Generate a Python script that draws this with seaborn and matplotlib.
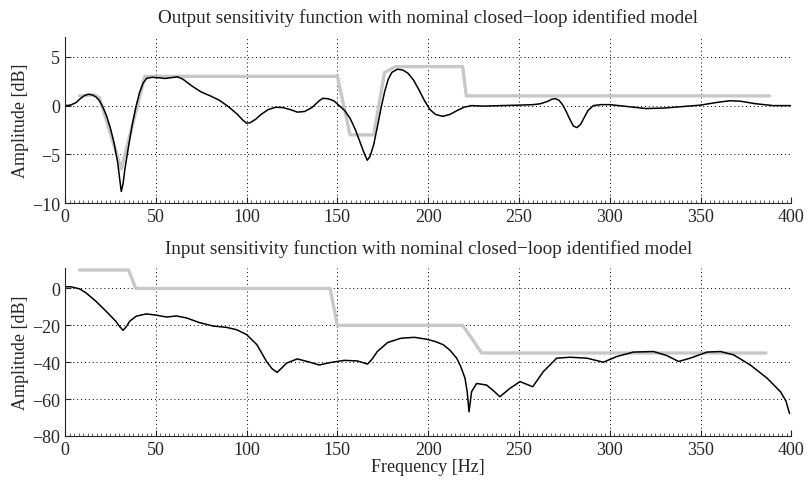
import numpy as np
import pandas as pd
import matplotlib
matplotlib.use("Agg")
import matplotlib.pyplot as plt
from matplotlib.ticker import MultipleLocator
import seaborn as sns

out_freq = [0, 3, 6, 9, 11, 13, 15, 17, 19, 21, 23, 25, 27, 29, 30, 31, 32, 33, 35, 37, 39, 41,
            43, 45, 48, 52, 55, 58, 62, 65, 70, 75, 80, 85, 90, 95, 98, 100, 102, 105, 108,
            112, 116, 120, 124, 128, 132, 136, 140, 142, 145, 148, 151, 154, 157, 160, 163,
            165, 166.5, 168, 170, 172, 174, 176, 178, 180, 183, 186, 189, 192, 195, 198, 201,
            204, 208, 212, 216, 220, 224, 230, 240, 250, 258, 262, 266, 268, 270, 272, 274,
            276, 278, 280, 282, 284, 286, 288, 291, 295, 300, 310, 320, 330, 340, 350, 358,
            366, 372, 380, 390, 400]
out_db = [0, 0.05, 0.3, 0.8, 1.05, 1.17, 1.1, 0.9, 0.5, -0.2, -1.1, -2.3, -3.8, -5.8, -7.3,
          -8.8, -8.0, -6.5, -4.2, -2.0, -0.2, 1.3, 2.3, 2.8, 2.9, 2.85, 2.78, 2.85, 2.95, 2.7,
          2.0, 1.4, 1.0, 0.55, -0.1, -0.9, -1.5, -1.8, -1.75, -1.4, -0.9, -0.4, -0.17, -0.2,
          -0.4, -0.67, -0.6, -0.2, 0.5, 0.75, 0.7, 0.5, 0.0, -0.5, -1.3, -2.5, -4.0, -5.0,
          -5.6, -5.2, -4.0, -2.2, -0.3, 1.4, 2.7, 3.4, 3.73, 3.65, 3.3, 2.6, 1.6, 0.5, -0.4,
          -0.9, -1.1, -0.9, -0.5, -0.15, 0.0, -0.05, 0.0, 0.05, 0.1, 0.2, 0.45, 0.65, 0.72,
          0.55, 0.1, -0.6, -1.4, -2.1, -2.25, -1.9, -1.2, -0.5, 0.0, 0.1, 0.1, -0.1, -0.3,
          -0.25, -0.1, 0.05, 0.3, 0.5, 0.45, 0.2, 0.0, 0.0]

# output sensitivity template (grey)
out_tpl_freq = [8, 16, 19, 31, 44, 150, 157, 170, 176, 182, 219, 221, 388]
out_tpl_db = [1, 1.1, 0.8, -6.5, 3, 3, -3, -3, 3.4, 4, 4, 1, 1]

# input sensitivity (measured)
in_freq = [0, 3.3, 8, 11.6, 17, 22.7, 28, 30, 32, 34, 35.6, 39.3, 44.8, 50.4, 56, 61.4, 67,
           74, 81.7, 89, 94.6, 100, 105.7, 111, 114, 116.8, 119, 122, 127.9, 133.4, 140,
           146, 153.7, 161, 164, 166.6, 169, 172, 177.7, 185, 192.4, 199, 204, 208.3,
           212, 215.7, 218, 220.3, 221.5, 222.5, 223.9, 226.7, 232.2, 236, 239.5, 245,
           250.6, 257.6, 263.4, 270.8, 278.2, 287.4, 296.5, 303.9, 313, 324.1, 331.5,
           337.9, 344.3, 353.6, 360.9, 368.2, 377.4, 386.7, 394, 397, 399]
in_db = [0.9, 0.9, -0.2, -2.4, -6.9, -12.4, -17.8, -20.5, -22.7, -20.5, -17.8, -15, -13.8,
         -14.5, -15.5, -14.9, -16, -18.5, -20.4, -21.1, -22.4, -25, -30.5, -39.6, -43.5,
         -45.5, -43.5, -40.5, -38.2, -39.6, -41.5, -40.2, -39, -39.3, -40.2, -41, -38.5,
         -34.2, -29.3, -27, -26.5, -27.5, -28.8, -30.5, -33.5, -37.8, -42.5, -48.7, -56,
         -66.9, -56, -51.5, -52.4, -55.5, -58.7, -54.2, -50.5, -53.3, -45.1, -37.8,
         -37.3, -37.8, -40, -36.9, -34.5, -34.2, -36.4, -39.6, -37.8, -34.5, -34.2, -36,
         -41.5, -48.7, -56, -61, -67.8]

# input sensitivity template (grey)
in_tpl_freq = [8, 35, 39, 146, 150, 219, 229.5, 386]
in_tpl_db = [10, 10, 0, 0, -20, -20, -35, -35]

titles = ["Output sensitivity function with nominal closed\u2212loop identified model",
          "Input sensitivity function with nominal closed\u2212loop identified model"]

sns.set_style("ticks")
plt.rcParams["font.family"] = ["Liberation Serif", "DejaVu Serif"]

fig = plt.figure(figsize=(8.08, 4.85), dpi=100)
ax1 = fig.add_axes([0.0804, 0.579, 0.899, 0.342])
ax2 = fig.add_axes([0.0804, 0.099, 0.899, 0.346])

panels = [
    (ax1, out_freq, out_db, out_tpl_freq, out_tpl_db, (-10, 7), [-10, -5, 0, 5]),
    (ax2, in_freq, in_db, in_tpl_freq, in_tpl_db, (-80, 11), [-80, -60, -40, -20, 0]),
]

for i, (ax, f, d, tf, td, ylim, yt) in enumerate(panels):
    meas = pd.DataFrame({"f": f, "db": d})
    tpl = pd.DataFrame({"f": tf, "db": td})
    sns.lineplot(data=tpl, x="f", y="db", ax=ax, color="#c8c8c8", linewidth=2.4,
                 sort=False, estimator=None)
    sns.lineplot(data=meas, x="f", y="db", ax=ax, color="black", linewidth=1.1,
                 sort=False, estimator=None)
    ax.set_xlim(0, 400)
    ax.set_ylim(*ylim)
    ax.set_yticks(yt)
    ax.set_xticks(range(0, 401, 50))
    ax.xaxis.set_minor_locator(MultipleLocator(2.5))
    ax.grid(True, which="major", linestyle=(0, (1, 3)), color="black", linewidth=0.7)
    ax.tick_params(which="major", direction="in", length=4, width=0.8, labelsize=13)
    ax.tick_params(axis="x", which="minor", direction="in", length=2, width=0.5)
    ax.tick_params(axis="y", which="minor", left=False)
    for s in ["top", "right"]:
        ax.spines[s].set_visible(False)
    ax.set_ylabel("Amplitude [dB]", fontsize=13, labelpad=2)
    ax.set_xlabel("")
    ax.set_title(titles[i], fontsize=13.8, pad=11)

ax2.set_xlabel("Frequency [Hz]", fontsize=13, labelpad=0)

fig.savefig("out.png", dpi=100)
